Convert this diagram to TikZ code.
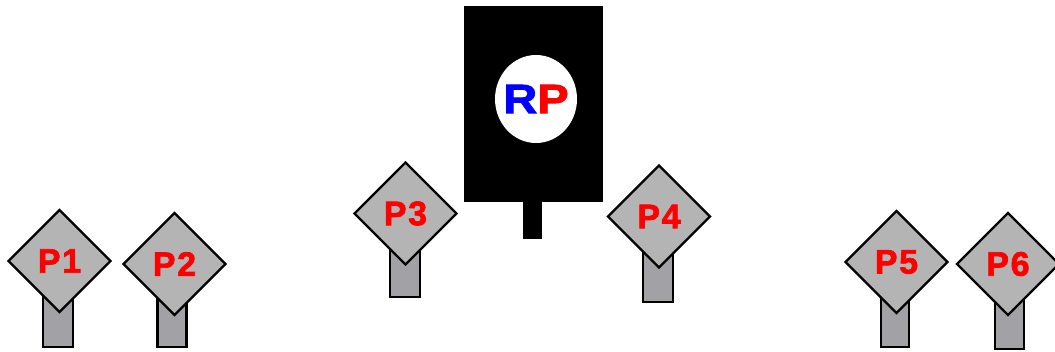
\documentclass[tikz,border=0pt]{standalone}
\usepackage{fontspec}
\setmainfont{Liberation Sans}
\newfontfamily\heavyfont[FakeBold=2,LetterSpace=5]{Liberation Sans Bold}
\newfontfamily\rpfont[FakeBold=2,FakeStretch=1.15]{Liberation Sans Bold}
\usetikzlibrary{shapes.geometric}
\definecolor{signgray}{HTML}{B4B4B4}
\definecolor{postgray}{HTML}{A2A2A6}
\definecolor{rpblue}{HTML}{0000FF}
\definecolor{rpred}{HTML}{FF0000}
\tikzset{
  sign/.style={diamond, aspect=1, draw=black, line width=2.3pt, fill=signgray,
    minimum width=103pt, minimum height=103pt, inner sep=0pt,
    text=rpred, font=\heavyfont\fontsize{34}{34}\selectfont},
  post/.style={rectangle, draw=black, line width=2.3pt, fill=postgray, inner sep=0pt},
}
\begin{document}
\begin{tikzpicture}[x=1pt,y=-1pt]
\useasboundingbox (0,0) rectangle (1055,352);
\clip (0,0) rectangle (1055,352);
% RP unit
\node[rectangle, fill=black, inner sep=0pt, minimum width=19pt, minimum height=40pt] (rppost) at (532.5,219) {};
\node[rectangle, fill=black, draw=black, inner sep=0pt, minimum width=138pt, minimum height=195pt] (rpbox) at (533.5,103.5) {};
\node[ellipse, fill=white, inner sep=0pt, minimum width=82pt, minimum height=88pt] (rpdisc) at (536,99) {};
\node[font=\rpfont\fontsize{41}{41}\selectfont, inner sep=0pt] (rplabel) at (536,99) {\textcolor{rpblue}{R}\textcolor{rpred}{P}};
% posts
\node[post, minimum width=30pt, minimum height=58pt] (post1) at (58,318) {};
\node[post, minimum width=29pt, minimum height=58pt] (post2) at (172,318) {};
\node[post, minimum width=30pt, minimum height=58pt] (post3) at (405,268) {};
\node[post, minimum width=30pt, minimum height=58pt] (post4) at (658,273) {};
\node[post, minimum width=28pt, minimum height=58pt] (post5) at (895,318) {};
\node[post, minimum width=29pt, minimum height=58pt] (post6) at (1009.5,320) {};
% signs
\node[sign] (p1) at (59.5,261) {P1};
\node[sign] (p2) at (174.5,264) {P2};
\node[sign] (p3) at (405.5,213.5) {P3};
\node[sign] (p4) at (659,216.5) {P4};
\node[sign] (p5) at (896.5,262) {P5};
\node[sign] (p6) at (1008,264) {P6};
\end{tikzpicture}
\end{document}
